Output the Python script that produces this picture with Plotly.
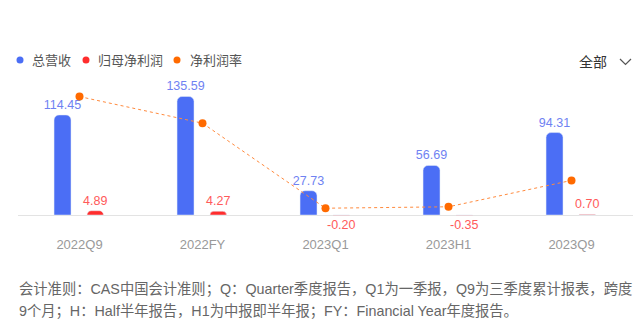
import plotly.graph_objects as go

categories = ["2022Q9", "2022FY", "2023Q1", "2023H1", "2023Q9"]
revenue = [114.45, 135.59, 27.73, 56.69, 94.31]
net_profit = [4.89, 4.27, -0.20, -0.35, 0.70]
net_margin = [4.27, 3.15, -0.43, -0.37, 0.74]

legend_names = ["总营收", "归母净利润", "净利润率"]
footer_lines = [
    "会计准则：CAS中国会计准则；Q：Quarter季度报告，Q1为一季报，Q9为三季度累计报表，跨度",
    "9个月；H：Half半年报告，H1为中报即半年报；FY：Financial Year年度报告。",
]

BLUE = "#4b6ef5"
RED = "#ff2d2d"
ORANGE = "#ff6a00"
FONT = "Liberation Sans, Arial, Noto Sans CJK SC"

W, H = 644, 333
L, R, T, B = 18, 11, 80, 100
plot_w = W - L - R
plot_h = H - T - B
bottom_px = H - B

def px_x(p):
    return (p - L) / plot_w

def px_y(p):
    return (bottom_px - p) / plot_h

# axis ranges so that zero lines sit at the reference positions
zero1, scale1 = 215, 0.874
zero2, scale2 = 198, 23.75
y1_range = [-(bottom_px - zero1) / scale1, (zero1 - T) / scale1]
y2_range = [-(bottom_px - zero2) / scale2, (zero2 - T) / scale2]

fig = go.Figure()
fig.add_trace(go.Bar(
    x=categories, y=revenue, name=legend_names[0],
    marker=dict(color=BLUE, cornerradius=5),
    width=0.138, offset=-0.207,
    text=[f"{v:.2f}" for v in revenue], textposition="outside",
    textfont=dict(color="#6f82f2", size=12.5, family=FONT),
    constraintext="none", cliponaxis=False, showlegend=False,
))
fig.add_trace(go.Bar(
    x=categories, y=net_profit, name=legend_names[1],
    marker=dict(color=RED, cornerradius=5),
    width=0.134, offset=0.061,
    text=[f"{v:.2f}" for v in net_profit], textposition="outside",
    textfont=dict(color="#ff5a5a", size=12.5, family=FONT),
    constraintext="none", cliponaxis=False, showlegend=False,
))
fig.add_trace(go.Scatter(
    x=categories, y=net_margin, name=legend_names[2], yaxis="y2",
    mode="lines+markers",
    line=dict(color="#ff8a3d", width=1, dash="dot"),
    marker=dict(color=ORANGE, size=8),
    cliponaxis=False, showlegend=False,
))

shapes = []
annotations = []
# manual legend
legend_items = [(20, 30, BLUE), (86, 96, RED), (177, 188, ORANGE)]
for (dx, tx, col), name in zip(legend_items, legend_names):
    shapes.append(dict(type="circle", xref="paper", yref="paper",
                       x0=px_x(dx - 3.5), x1=px_x(dx + 3.5),
                       y0=px_y(60 + 3.5), y1=px_y(60 - 3.5),
                       fillcolor=col, line=dict(width=0)))
    annotations.append(dict(xref="paper", yref="paper", x=px_x(tx), y=px_y(60),
                            xanchor="left", yanchor="middle", showarrow=False,
                            text=name, font=dict(size=13, color="#555555", family=FONT)))

# "全部" dropdown
annotations.append(dict(xref="paper", yref="paper", x=px_x(609), y=px_y(62),
                        xanchor="right", yanchor="middle", showarrow=False,
                        text="全部", font=dict(size=14, color="#333333", family=FONT)))
shapes.append(dict(type="path", xref="paper", yref="paper",
                   path=f"M {px_x(620)} {px_y(59)} L {px_x(625.5)} {px_y(64.5)} L {px_x(631)} {px_y(59)}",
                   line=dict(color="#555555", width=1.2)))

# footer
for i, line in enumerate(footer_lines):
    annotations.append(dict(xref="paper", yref="paper", x=px_x(17), y=px_y(289 + 22 * i),
                            xanchor="left", yanchor="middle", showarrow=False,
                            text=line, font=dict(size=14.3, color="#666666", family=FONT)))

fig.update_layout(
    width=W, height=H,
    margin=dict(l=L, r=R, t=T, b=B),
    paper_bgcolor="white", plot_bgcolor="white",
    barmode="group",
    font=dict(family=FONT),
    xaxis=dict(showline=False, showgrid=False, ticks="",
               tickfont=dict(size=13, color="#999999", family=FONT),
               ticklabelstandoff=2),
    yaxis=dict(range=y1_range, showgrid=False, showticklabels=False,
               zeroline=True, zerolinecolor="#e3e3e3", zerolinewidth=1),
    yaxis2=dict(range=y2_range, overlaying="y", side="right",
                showgrid=False, showticklabels=False, zeroline=False),
    shapes=shapes, annotations=annotations,
    showlegend=False,
)

fig.write_html("out.html")
